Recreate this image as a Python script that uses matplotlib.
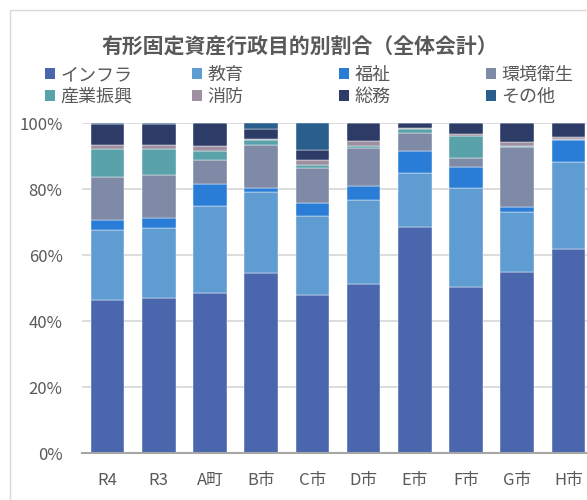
import matplotlib
matplotlib.use("Agg")
import matplotlib.pyplot as plt
from matplotlib.patches import Patch, Rectangle
import numpy as np

plt.rcParams['font.family'] = ['Noto Sans CJK JP', 'DejaVu Sans']

categories = ["R4", "R3", "A町", "B市", "C市", "D市", "E市", "F市", "G市", "H市"]

# 構成比（%）
infra    = [46.4, 47.1, 48.6, 54.5, 47.9, 51.1, 68.4, 50.4, 54.9, 61.7]
kyoiku   = [21.2, 21.0, 26.2, 24.5, 23.9, 25.6, 16.4, 30.0, 18.0, 26.5]
fukushi  = [3.0, 3.0, 6.6, 1.4, 3.9, 4.3, 6.7, 6.3, 1.5, 6.6]
kankyo   = [13.1, 13.0, 7.4, 13.0, 10.8, 11.3, 5.4, 2.6, 18.2, 0.4]
sangyo   = [8.4, 8.1, 2.6, 1.4, 0.7, 0.8, 1.3, 6.9, 0.4, 0.0]
shobo    = [1.2, 1.1, 1.7, 0.4, 1.6, 1.5, 0.3, 0.5, 1.2, 0.7]
somu     = [6.4, 6.5, 6.9, 2.9, 3.1, 5.4, 1.5, 3.3, 5.8, 4.1]
sonota   = [0.3, 0.2, 0.0, 1.9, 8.1, 0.0, 0.0, 0.0, 0.0, 0.0]

series_names = ["インフラ", "教育", "福祉", "環境衛生", "産業振興", "消防", "総務", "その他"]
series_vals = [infra, kyoiku, fukushi, kankyo, sangyo, shobo, somu, sonota]
colors = ["#4a66ac", "#5f9cd2", "#2a7dd6", "#7f8ba6", "#59a2aa", "#9e90a0", "#2c3c67", "#2a5e8c"]

fig = plt.figure(figsize=(5.87, 5.00), dpi=100)
ax = fig.add_axes([82/587, 47/500, 512/587, 330/500])

x = np.arange(len(categories))
bottom = np.zeros(len(categories))
for name, vals, c in zip(series_names, series_vals, colors):
    ax.bar(x, vals, 0.66, bottom=bottom, color=c, edgecolor="white",
           linewidth=0.3, label=name, zorder=3)
    bottom += np.array(vals)

ax.set_xlim(-0.5, len(categories) - 0.5)
ax.set_ylim(0, 100)
ax.set_yticks(range(0, 101, 20))
ax.set_yticklabels([f"{v}%" for v in range(0, 101, 20)])
ax.set_xticks(x)
ax.set_xticklabels(categories)
ax.grid(axis="y", color="#d9d9d9", linewidth=1.3, zorder=0)
ax.tick_params(axis="both", length=0, labelsize=12, colors="#595959")
ax.tick_params(axis="y", pad=14)
ax.tick_params(axis="x", pad=14)
for s in ["top", "right", "left"]:
    ax.spines[s].set_visible(False)
ax.spines["bottom"].set_color("#a6a6a6")
ax.spines["bottom"].set_linewidth(1.5)
ax.spines["bottom"].set_zorder(4)

fig.text(300/587, 1 - 47/500, "有形固定資産行政目的別割合（全体会計）",
         ha="center", va="center", fontsize=15, fontweight="bold", color="#595959")

# 凡例: 4列を等間隔に配置
handles = [Patch(facecolor=c) for c in colors]
for j in range(4):
    leg = fig.legend([handles[j], handles[j + 4]],
                     [series_names[j], series_names[j + 4]],
                     loc="upper left", bbox_to_anchor=((45 + 147 * j) / 587, 1 - 66/500),
                     frameon=False, fontsize=13, borderpad=0, borderaxespad=0,
                     handlelength=0.55, handleheight=0.55, handletextpad=0.3,
                     labelspacing=0.2, labelcolor="#595959")

fig.add_artist(Rectangle((10/587, -0.1), 2, 1.08, transform=fig.transFigure,
                         fill=False, edgecolor="#d9d9d9", linewidth=1))

fig.savefig("out.png", dpi=100)
